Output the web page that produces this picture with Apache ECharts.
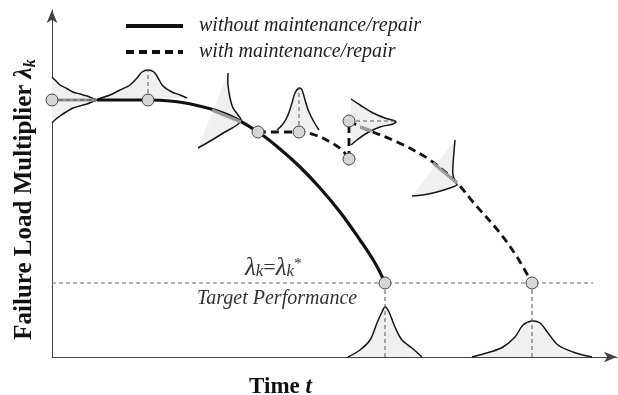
<!DOCTYPE html>
<html><head><meta charset="utf-8">
<script src="https://cdn.jsdelivr.net/npm/echarts@6/dist/echarts.min.js"></script>
<style>html,body{margin:0;padding:0;background:#fff}#c{width:618px;height:395px}</style>
</head><body><div id="c"></div>
<script>
// ---- data (time units, failure-load-multiplier units) ----
const solidCurve = [[45,257],[96,257],[118,256],[143,252],[176,242],[206,225],[228,208],[248,190],[268,169],[288,145],[308,117],[323,94],[333,74]];
const dashedA = [[206,225],[247,225],[263,222],[278,215],[290,207],[297,198]];
const dashedB = [[297,198],[297,236]];
const dashedC = [[297,236],[311,229],[345,215],[378,197],[405,174],[421,155],[448,124],[465,100],[480,74]];
const statePoints = [[0,257],[96,257],[206,225],[247,225],[297,236],[297,198],[333,74],[480,74]];
const targetLevel = [[0,74],[541,74]];
// probability density outlines
const pdf1 = [[0,280],[4,276],[8,272],[14,269],[21,265],[28,263],[35,261],[41,258.5],[45,257],[41,255.5],[35,253],[28,251],[21,249],[14,245],[8,241],[4,238],[0,234]];
const pdf2 = [[46,258],[58,262],[68,267],[78,272],[85,279],[90,285],[96,287],[102,285],[106,279],[111,271],[120,265],[128,262],[135,259]];
const pdf3 = [[176,284],[176,272],[178,259],[181,249],[186,242],[189,237],[185,232],[173,225],[160,217],[146,209]];
const pdf4 = [[225,227],[231,233],[236,242],[240,254],[243,264],[247,269],[250,267],[253,257],[257,245],[262,235],[267,227]];
const pdf5 = [[299,258],[308,252],[321,244],[333,239],[343,236],[344,235],[341,233],[328,230],[315,224],[305,217],[299,212]];
const pdf6 = [[403,217],[402,205],[401,192],[401,182],[404,174],[405,172],[398,169],[385,165],[371,162],[360,161]];
const pdf7 = [[296,0],[308,7],[318,17],[325,34],[330,45],[333,50],[337,45],[343,30],[350,17],[360,9],[370,0]];
const pdf8 = [[420,0],[438,5],[451,10],[463,20],[471,32],[480,36],[488,34],[496,24],[506,12],[521,5],[540,0]];
const pdfs = [pdf1,pdf2,pdf3,pdf4,pdf5,pdf6,pdf7,pdf8];
// mean markers
const thinDashed = [
  [[333,74],[333,0]], [[480,74],[480,0]], [[96,257],[96,287]], [[247,225],[247,269]],
  [[0,257],[45,257]], [[297,236],[344,236]]
];
const greyMeans = [
  [[0,257],[45,257]], [[160,247],[189,235]], [[308,230],[320,226]], [[381,194],[405,174]]
];
const legendNames = ['without maintenance/repair','with maintenance/repair'];

const SERIF = 'Liberation Serif';
const chart = echarts.init(document.getElementById('c'));
const series = [];
series.push({
  type:'custom', coordinateSystem:'cartesian2d', z:1, silent:true,
  data: pdfs.map((p,i)=>[p[0][0],p[0][1],i]),
  renderItem:(params, api)=>{
    const pts = pdfs[params.dataIndex].map(p=>api.coord(p));
    return {type:'group', children:[
      {type:'polygon', shape:{points:pts}, style:{fill:'#f0f0f0', stroke:null}},
      {type:'polyline', shape:{points:pts, smooth:0.35}, style:{fill:null, stroke:'#151515', lineWidth:1.5}}
    ]};
  }
});
series.push({name:legendNames[0], type:'line', data:solidCurve, smooth:0.4, symbol:'none', z:3,
  itemStyle:{color:'#111'}, lineStyle:{color:'#111', width:3.2}});
series.push({name:legendNames[1], type:'line', data:dashedC, smooth:0.35, symbol:'none', z:3,
  itemStyle:{color:'#111'}, lineStyle:{color:'#111', width:2.8, type:[8,5]}});
series.push({name:'dA', type:'line', data:dashedA, smooth:0.35, symbol:'none', z:3,
  lineStyle:{color:'#111', width:2.8, type:[8,5]}});
series.push({name:'dB', type:'line', data:dashedB, symbol:'none', z:3,
  lineStyle:{color:'#111', width:2.8, type:[8,5]}});
greyMeans.forEach((s,i)=>series.push({name:'g'+i, type:'line', data:s, symbol:'none', z:4,
  lineStyle:{color:'#9a9a9a', width:3}}));
series.push({name:'target', type:'line', data:targetLevel, symbol:'none', z:4,
  lineStyle:{color:'#666', width:1, type:[4,3]}});
thinDashed.forEach((s,i)=>series.push({name:'t'+i, type:'line', data:s, symbol:'none', z:4,
  lineStyle:{color:'#555', width:1, type:[4,3]}}));
series.push({name:'states', type:'scatter', data:statePoints, symbol:'circle', symbolSize:12, z:6,
  itemStyle:{color:'#d6d6d6', borderColor:'#444', borderWidth:1, opacity:1}});

chart.setOption({
  animation:false,
  grid:{left:52, right:1, top:10, bottom:38, outerBoundsMode:'none', containLabel:false},
  legend:{data:legendNames, left:124, top:16, padding:0, orient:'vertical', itemWidth:57, itemHeight:14, itemGap:6,
    lineStyle:{width:4}, itemStyle:{opacity:0},
    textStyle:{fontFamily:SERIF, fontStyle:'italic', fontSize:20, color:'#222', padding:[0,0,0,11]}},
  xAxis:{type:'value', min:0, max:565, splitLine:{show:false}, axisTick:{show:false}, axisLabel:{show:false},
    axisLine:{lineStyle:{color:'#444', width:1}, symbol:['none','arrow'], symbolSize:[8,13]},
    name:'{b|Time }{bi|t}', nameLocation:'middle', nameGap:19,
    nameTextStyle:{padding:[0,108,0,0], rich:{
      b:{fontFamily:SERIF, fontWeight:'bold', fontSize:23, color:'#111'},
      bi:{fontFamily:SERIF, fontWeight:'bold', fontStyle:'italic', fontSize:23, color:'#111'}}}},
  yAxis:{type:'value', min:0, max:347, splitLine:{show:false}, axisTick:{show:false}, axisLabel:{show:false},
    axisLine:{lineStyle:{color:'#444', width:1}, symbol:['none','arrow'], symbolSize:[8,13]},
    name:'{b|Failure Load Multiplier }{g|λ}{s|k}', nameLocation:'middle', nameRotate:90, nameGap:13,
    nameTextStyle:{padding:[0,32,0,0], rich:{
      b:{fontFamily:SERIF, fontWeight:'bold', fontSize:25, color:'#111', lineHeight:28, verticalAlign:'middle'},
      g:{fontFamily:SERIF, fontWeight:'bold', fontStyle:'italic', fontSize:25, color:'#111', lineHeight:28, verticalAlign:'middle'},
      s:{fontFamily:SERIF, fontWeight:'bold', fontStyle:'italic', fontSize:16, color:'#111', lineHeight:16, verticalAlign:'bottom'}}}},
  graphic:[
    {type:'text', left:245, top:256, z:10, style:{
      text:'{l|λ}{s|k}{e|=}{l|λ}{s|k}{p|*}',
      rich:{
        l:{fontFamily:SERIF, fontStyle:'italic', fontSize:25, fill:'#333', lineHeight:24, verticalAlign:'middle'},
        e:{fontFamily:SERIF, fontSize:22, fill:'#333', lineHeight:24, verticalAlign:'middle'},
        s:{fontFamily:SERIF, fontStyle:'italic', fontSize:17, fill:'#333', lineHeight:15, verticalAlign:'bottom'},
        p:{fontFamily:SERIF, fontSize:15, fill:'#333', lineHeight:14, verticalAlign:'top'}
      }}},
    {type:'text', left:197, top:289, z:10, style:{text:'Target Performance', fontFamily:SERIF, fontStyle:'italic', fontSize:20, fill:'#333'}}
  ],
  series
});
</script></body></html>
